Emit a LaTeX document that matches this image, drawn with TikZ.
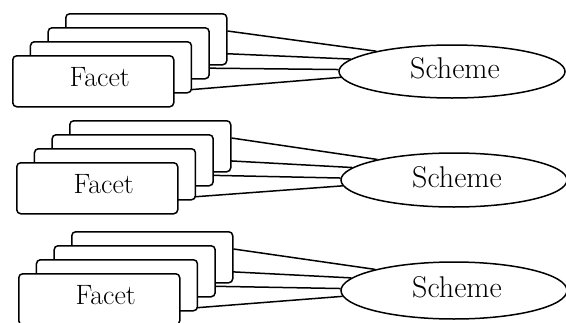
\documentclass[tikz,border=0pt]{standalone}
\usetikzlibrary{shapes.geometric}
\pgfdeclarelayer{bg}
\pgfsetlayers{bg,main}
\tikzset{
  card/.style={draw, fill=white, rounded corners=4pt, minimum width=161pt,
    minimum height=51pt, anchor=north west, inner sep=0pt, line width=1.5pt},
  scheme/.style={draw, fill=white, ellipse, minimum width=226pt,
    minimum height=#1, inner sep=0pt, line width=1.5pt},
  link/.style={line width=1.5pt},
  facettext/.style={font=\fontsize{28}{30}\selectfont, xshift=6.5pt, yshift=4pt},
  schemetext/.style={font=\fontsize{30}{32}\selectfont, xshift=3pt, yshift=3pt},
}
\newcommand{\facetgroup}[6]{%
  \node[card] (#1d) at (#2+53,#3-42) {};
  \node[card] (#1c) at (#2+35.4,#3-28) {};
  \node[card] (#1b) at (#2+17.7,#3-14) {};
  \node[card, label={[facettext]center:Facet}] (#1a) at (#2,#3) {};
  \node[scheme=#6, label={[schemetext]center:Scheme}] (#1s) at (#4,#5) {};
  \begin{pgfonlayer}{bg}
    \draw[link] ([yshift=-18pt]#1d.north east) -- (#1s.165);
    \draw[link] ([yshift=-26pt]#1c.north east) -- (#1s.173);
    \draw[link] ([yshift=-27pt]#1b.north east) -- (#1s.179);
    \draw[link] ([yshift=-36pt]#1a.north east) -- (#1s.183);
  \end{pgfonlayer}
}
\begin{document}
\begin{tikzpicture}[x=1pt,y=-1pt]
  \useasboundingbox (0,0) rectangle (566,322);
  \facetgroup{g1}{12}{55}{452}{71.5}{53pt}
  \facetgroup{g2}{16}{162}{454}{180}{54pt}
  \facetgroup{g3}{18}{273}{454}{290.5}{57pt}
\end{tikzpicture}
\end{document}
